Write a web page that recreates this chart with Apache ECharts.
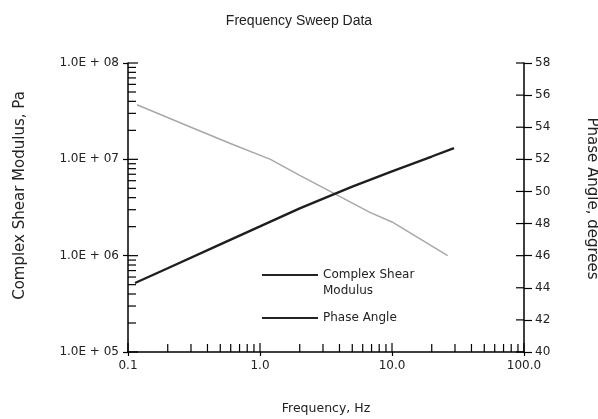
<!DOCTYPE html>
<html>
<head>
<meta charset="utf-8">
<script src="https://cdn.jsdelivr.net/npm/echarts@6/dist/echarts.min.js"></script>
<style>html,body{margin:0;padding:0;background:#fff;}#c{width:598px;height:419px;}</style>
</head>
<body>
<div id="c"></div>
<script>
// Complex shear modulus (Pa) vs frequency (Hz)
var modulusFreq = [0.113, 0.2, 0.5, 1.0, 2.0, 5.0, 10.0, 20.0, 29.5];
var modulusValues = [5.2e5, 7.4e5, 1.31e6, 2.01e6, 3.1e6, 5.2e6, 7.5e6, 1.07e7, 1.31e7];
// Phase angle (degrees) vs frequency (Hz)
var phaseFreq = [0.117, 0.3, 0.59, 1.2, 2.0, 3.4, 6.8, 10.0, 26.4];
var phaseValues = [55.4, 54.0, 53.0, 52.0, 51.0, 50.0, 48.7, 48.1, 46.0];
// Axis tick values
var xMajorTicks = [0.1, 1, 10, 100];
var xMinorTicks = [0.2,0.3,0.4,0.5,0.6,0.7,0.8,0.9, 2,3,4,5,6,7,8,9, 20,30,40,50,60,70,80,90];
var yMajorTicks = [1e5, 1e6, 1e7, 1e8];
var yMinorTicks = [2e5,3e5,4e5,5e5,6e5,7e5,8e5,9e5, 2e6,3e6,4e6,5e6,6e6,7e6,8e6,9e6, 2e7,3e7,4e7,5e7,6e7,7e7,8e7,9e7];
var phaseTicks = [40,42,44,46,48,50,52,54,56,58];

var FONT = '"Liberation Sans", Arial, sans-serif';
var WIDE = '"DejaVu Sans", sans-serif';
var TXT = '#222';

function zip(a, b) { return a.map(function (v, i) { return [v, b[i]]; }); }

function tickSeries(name, data, yAxisIndex, dx, dy) {
  return {
    type: 'custom', name: name, silent: true, clip: false, z: 5,
    xAxisIndex: 0, yAxisIndex: yAxisIndex,
    data: data,
    renderItem: function (params, api) {
      var p = api.coord([api.value(0), api.value(1)]);
      return { type: 'line', shape: { x1: p[0], y1: p[1], x2: p[0] + dx, y2: p[1] + dy },
               style: { stroke: '#000', lineWidth: 1.2 } };
    }
  };
}

var chart = echarts.init(document.getElementById('c'), null, { renderer: 'canvas' });
chart.setOption({
  animation: false,
  backgroundColor: '#fff',
  title: {
    text: 'Frequency Sweep Data', left: 'center', top: 9,
    textStyle: { fontFamily: FONT, fontSize: 14, fontWeight: 'normal', color: TXT }
  },
  legend: [
    {
      left: 262, top: 267, padding: 0, orient: 'vertical',
      icon: 'path://M0 0L0.01 0L0.01 0.01Z M0 7H56V9H0Z M0 32L0.01 32L0.01 31.99Z',
      itemWidth: 56, itemHeight: 32,
      data: [{ name: 'Complex Shear Modulus', itemStyle: { color: '#222' } }],
      formatter: function () { return 'Complex Shear\nModulus'; },
      textStyle: { fontFamily: WIDE, fontSize: 12, color: TXT, lineHeight: 16 }
    },
    {
      left: 262, top: 310, padding: 0, orient: 'vertical',
      icon: 'rect', itemWidth: 56, itemHeight: 2,
      data: [{ name: 'Phase Angle', itemStyle: { color: '#222' } }],
      textStyle: { fontFamily: WIDE, fontSize: 12, color: TXT, lineHeight: 16 }
    }
  ],
  grid: { left: 128, right: 74, top: 63, bottom: 67, containLabel: false, outerBoundsMode: 'none' },
  xAxis: {
    type: 'log', logBase: 10, min: 0.1, max: 100,
    name: 'Frequency, Hz', nameLocation: 'middle', nameGap: 50,
    nameTextStyle: { fontFamily: WIDE, fontSize: 12.5, color: TXT },
    axisLine: { lineStyle: { color: '#000', width: 1.5 } },
    axisTick: { show: true, length: 4, lineStyle: { color: '#000', width: 1.2 } },
    splitLine: { show: false },
    axisLabel: { fontFamily: WIDE, fontSize: 12, color: TXT, margin: 8,
      formatter: function (v) { return Number(v).toFixed(1); } }
  },
  yAxis: [
    {
      type: 'log', logBase: 10, min: 1e5, max: 1e8, position: 'left',
      name: 'Complex Shear Modulus, Pa', nameLocation: 'middle', nameGap: 100,
      nameTextStyle: { fontFamily: WIDE, fontSize: 15, color: TXT, padding: [0, 0, 0, 24] },
      axisLine: { lineStyle: { color: '#000', width: 1.5 } },
      axisTick: { show: true, length: 5, lineStyle: { color: '#000', width: 1.2 } },
      splitLine: { show: false },
      axisLabel: { fontFamily: WIDE, fontSize: 12, color: TXT, margin: 9,
        formatter: function (v) { var e = Math.round(Math.log10(v)); return '1.0E + ' + (e < 10 ? '0' : '') + e; } }
    },
    {
      type: 'value', min: 40, max: 58, interval: 2, position: 'right',
      name: 'Phase Angle, degrees', nameLocation: 'middle', nameGap: 60, nameRotate: -90,
      nameTextStyle: { fontFamily: WIDE, fontSize: 15, color: TXT, padding: [0, 18, 0, 0] },
      axisLine: { show: true, lineStyle: { color: '#000', width: 1.5 } },
      axisTick: { show: true, length: 8, lineStyle: { color: '#000', width: 1.2 } },
      splitLine: { show: false },
      axisLabel: { fontFamily: WIDE, fontSize: 12, color: TXT, margin: 11 }
    }
  ],
  series: [
    {
      name: 'Complex Shear Modulus', type: 'line', xAxisIndex: 0, yAxisIndex: 0,
      data: zip(modulusFreq, modulusValues), showSymbol: false, symbol: 'none',
      lineStyle: { color: '#1e1e1e', width: 2.4 }, itemStyle: { color: '#1e1e1e' }, z: 3
    },
    {
      name: 'Phase Angle', type: 'line', xAxisIndex: 0, yAxisIndex: 1,
      data: zip(phaseFreq, phaseValues), showSymbol: false, symbol: 'none',
      lineStyle: { color: '#a8a8a8', width: 1.5 }, itemStyle: { color: '#a8a8a8' }, z: 2
    },
    tickSeries('xMinor', xMinorTicks.map(function (v) { return [v, 1e5]; }), 0, 0, -8),
    tickSeries('xMajorIn', xMajorTicks.map(function (v) { return [v, 1e5]; }), 0, 0, -9),
    tickSeries('yMinor', yMinorTicks.map(function (v) { return [0.1, v]; }), 0, 8, 0),
    tickSeries('yMajorIn', yMajorTicks.map(function (v) { return [0.1, v]; }), 0, 10, 0),
    tickSeries('phaseIn', phaseTicks.map(function (v) { return [100, v]; }), 1, -8, 0)
  ]
});
</script>
</body>
</html>
